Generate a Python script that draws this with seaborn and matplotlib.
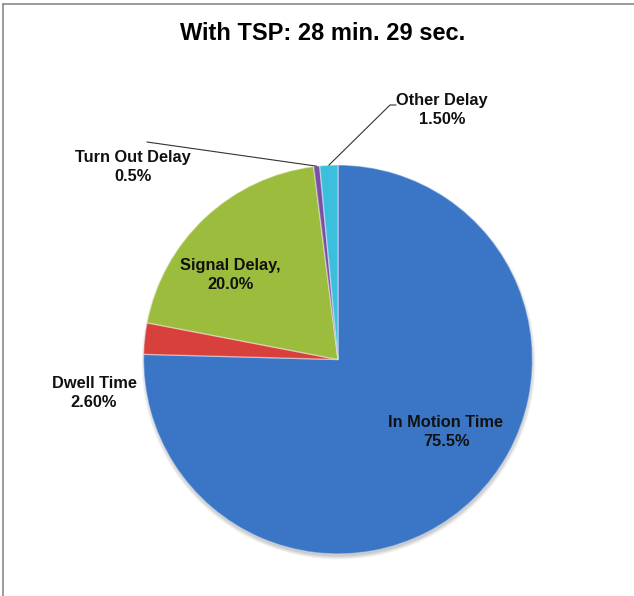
import numpy as np
import matplotlib
matplotlib.use("Agg")
import matplotlib.pyplot as plt
import seaborn as sns

# Travel-time breakdown with transit signal priority
categories = ["In Motion Time", "Dwell Time", "Signal Delay", "Turn Out Delay", "Other Delay"]
shares = [75.5, 2.6, 20.0, 0.5, 1.5]
share_labels = ["75.5%", "2.60%", "20.0%", "0.5%", "1.50%"]
label_names = ["In Motion Time", "Dwell Time", "Signal Delay,", "Turn Out Delay", "Other Delay"]
colors = ["#3B76C6", "#D8403B", "#9CBC3E", "#7B4FA6", "#3BBFDD"]
title = "With TSP: 28 min. 29 sec."

sns.set_theme(style="white")
plt.rcParams["font.family"] = ["Liberation Sans", "DejaVu Sans"]

W, H = 634, 596
fig = plt.figure(figsize=(W / 100, H / 100), dpi=100)
ax = fig.add_axes([0, 0, 1, 1])

cx, cy, r = 338, H - 359.5, 194.5

# soft drop shadow under the pie
for k in range(8):
    ax.add_patch(plt.Circle((cx + 0.5, cy - 3), r + 2.5 - k * 0.7, color="#000000",
                            alpha=0.035, lw=0, zorder=0))

wedges, _ = ax.pie(shares, colors=colors, startangle=90, counterclock=False,
                   center=(cx, cy), radius=r, frame=True,
                   wedgeprops=dict(edgecolor=(1, 1, 1, 0.4), linewidth=1.0))
for w in wedges:
    w.set_zorder(2)
ax.set_xlim(0, W)
ax.set_ylim(0, H)
ax.set_aspect("equal")
ax.axis("off")

# label placement (pixel offsets in figure space)
label_pos = {
    "In Motion Time": (446, 432),
    "Dwell Time": (94, 393),
    "Signal Delay": (230, 275),
    "Turn Out Delay": (133, 167),
    "Other Delay": (442, 110),
}
leader_end = {
    "Turn Out Delay": [(147, 142)],
    "Other Delay": [(390, 105), (396, 105)],
}

cum = np.cumsum(shares) - np.array(shares) / 2
for name, lname, pct, mid in zip(categories, label_names, share_labels, cum):
    px, py = label_pos[name]
    ax.text(px, H - py, f"{lname}\n{pct}", ha="center", va="center",
            fontsize=11.8, fontweight="bold", color="#111111",
            linespacing=1.35, zorder=5)
    if name in leader_end:
        ang = np.deg2rad(360 * mid / sum(shares))
        ax_pt = (cx + r * np.sin(ang), cy + r * np.cos(ang))
        pts = [ax_pt] + [(x, H - y) for x, y in leader_end[name]]
        xs, ys = zip(*pts)
        ax.plot(xs, ys, color="#333333", lw=0.8, zorder=4)

ax.text(323, H - 33, title, ha="center", va="center", fontsize=17,
        fontweight="bold", color="#000000")

# chart frame (top and left edges)
ax.plot([3, W], [H - 3.5, H - 3.5], color="#8a8a8a", lw=1.2, clip_on=False)
ax.plot([3, 3], [0, H - 3.5], color="#8a8a8a", lw=1.2, clip_on=False)

fig.savefig("out.png", dpi=100)
